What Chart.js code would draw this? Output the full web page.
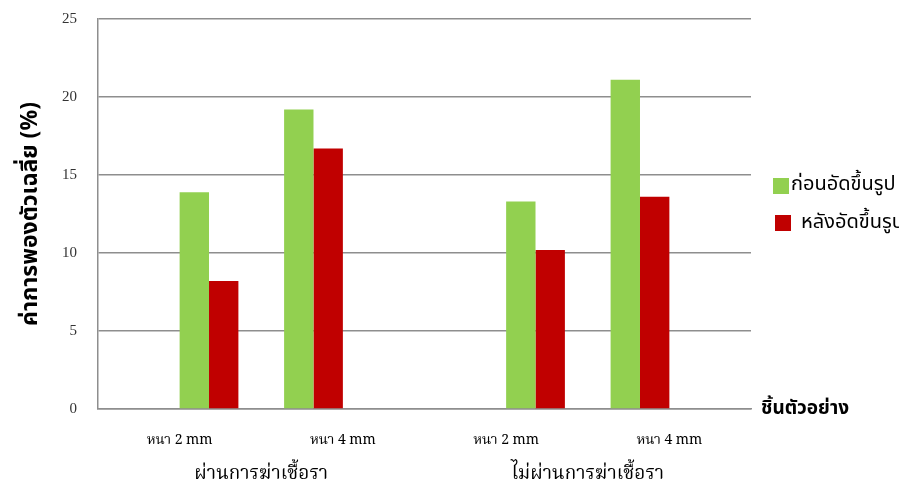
<!DOCTYPE html>
<html>
<head>
<meta charset="utf-8">
<script src="https://cdn.jsdelivr.net/npm/chart.js@4.4.1/dist/chart.umd.min.js"></script>
<style>
  html, body { margin: 0; padding: 0; background: #ffffff; }
  #wrap { width: 899px; height: 487px; position: relative; }
</style>
</head>
<body>
<div id="wrap"><canvas id="chart" width="899" height="487"></canvas></div>
<script>
// Sample thickness per category, and the treatment group each pair belongs to
const thicknessLabels = ['หนา 2 mm', 'หนา 4 mm', 'หนา 2 mm', 'หนา 4 mm'];
const treatmentGroups = ['ผ่านการฆ่าเชื้อรา', 'ไม่ผ่านการฆ่าเชื้อรา'];

// Series names
const seriesNames = ['ก่อนอัดขึ้นรูป', 'หลังอัดขึ้นรูป'];

// Mean swelling (%) per category
const beforeForming = [13.9, 19.2, 13.3, 21.1];
const afterForming  = [8.2, 16.7, 10.2, 13.6];

// Value axis
const yMin = 0, yMax = 25, yStep = 5;
const yTitle = 'ค่าการพองตัวเฉลี่ย (%)';
const xTitle = 'ชิ้นตัวอย่าง';

const GREEN = '#92D050';
const RED = '#C00000';
const GRID = '#8e8e8e';

const THAI_SANS = '"Noto Sans Thai", "Noto Sans Thai UI", Tahoma, "Noto Sans", "DejaVu Sans", sans-serif';
const THAI_SERIF = '"Noto Serif Thai", "Liberation Serif", "DejaVu Serif", serif';

// 4 mm bars sit in the first two slots of a category, 2 mm bars in the last two
const is4mm = i => thicknessLabels[i].indexOf('4') !== -1;
const pick = (values, want4mm) => values.map((v, i) => (is4mm(i) === want4mm ? v : null));

const datasets = [
  { label: seriesNames[0], data: pick(beforeForming, true),  backgroundColor: GREEN },
  { label: seriesNames[1], data: pick(afterForming, true),   backgroundColor: RED },
  { label: seriesNames[0], data: pick(beforeForming, false), backgroundColor: GREEN },
  { label: seriesNames[1], data: pick(afterForming, false),  backgroundColor: RED }
];

// Legend at the right of the plot, plus the x-axis caption at the end of the axis line
const sideLabels = {
  id: 'sideLabels',
  afterDraw(chart) {
    const ctx = chart.ctx;
    const area = chart.chartArea;
    ctx.save();
    // axis caption
    ctx.fillStyle = '#000000';
    ctx.font = 'bold 19px ' + THAI_SANS;
    ctx.textAlign = 'left';
    ctx.textBaseline = 'middle';
    ctx.fillText(xTitle, area.right + 10, area.bottom + 1);
    // legend entries (one per series)
    const entries = [
      { ds: chart.data.datasets[0], bx: area.right + 22, by: 178, tx: area.right + 40, ty: 186 },
      { ds: chart.data.datasets[1], bx: area.right + 24, by: 215, tx: area.right + 50, ty: 224 }
    ];
    ctx.font = '20px ' + THAI_SANS;
    entries.forEach(e => {
      ctx.fillStyle = e.ds.backgroundColor;
      ctx.fillRect(e.bx, e.by, 16, 16);
      ctx.fillStyle = '#000000';
      ctx.fillText(e.ds.label, e.tx, e.ty);
    });
    ctx.restore();
  }
};

new Chart(document.getElementById('chart'), {
  type: 'bar',
  data: { labels: thicknessLabels, datasets },
  options: {
    responsive: false,
    animation: false,
    devicePixelRatio: 1,
    layout: { padding: { top: 19, right: 148, left: 0, bottom: 0 } },
    datasets: { bar: { categoryPercentage: 0.72, barPercentage: 1.0, borderWidth: 0 } },
    plugins: {
      legend: { display: false },
      tooltip: { enabled: false }
    },
    scales: {
      x: {
        type: 'category',
        position: 'bottom',
        weight: 0,
        grid: { display: false, drawTicks: false },
        border: { display: true, color: GRID, width: 1.5 },
        ticks: {
          color: '#000000',
          padding: 24,
          maxRotation: 0,
          autoSkip: false,
          font: { family: THAI_SERIF, size: 14 }
        },
        afterFit(scale) { scale.height = 48; scale.paddingLeft = 0; scale.paddingRight = 0; }
      },
      x2: {
        type: 'category',
        labels: treatmentGroups,
        position: 'bottom',
        weight: 1,
        grid: { display: false, drawTicks: false },
        border: { display: false },
        ticks: {
          color: '#000000',
          padding: 7,
          maxRotation: 0,
          autoSkip: false,
          font: { family: THAI_SERIF, size: 19 }
        },
        afterFit(scale) { scale.height = 30; scale.paddingLeft = 0; scale.paddingRight = 0; }
      },
      y: {
        min: yMin,
        max: yMax,
        ticks: {
          stepSize: yStep,
          color: '#333333',
          padding: 21,
          font: { family: '"Liberation Serif", serif', size: 15 }
        },
        grid: { color: GRID, lineWidth: 1.5, drawTicks: false },
        border: { display: true, color: GRID, width: 1.5 },
        title: {
          display: true,
          text: yTitle,
          color: '#000000',
          padding: { top: 19, bottom: 0 },
          font: { family: THAI_SANS, size: 23, weight: 'bold' }
        },
        afterFit(scale) { scale.width = 98; scale.paddingTop = 0; scale.paddingBottom = 0; }
      }
    }
  },
  plugins: [sideLabels]
});
</script>
</body>
</html>
